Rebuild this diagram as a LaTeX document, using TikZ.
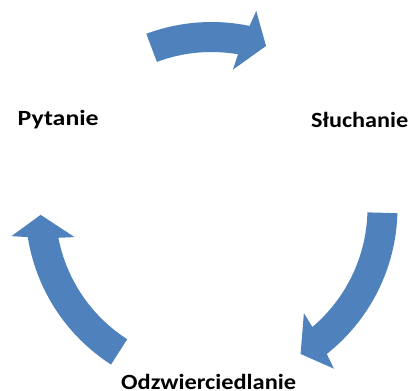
\documentclass[tikz,border=0pt]{standalone}
\usepackage{fontspec}
\setmainfont{Carlito}
\usepackage{graphicx}
\usetikzlibrary{calc}
\definecolor{sablue}{HTML}{4F81BD}
\tikzset{
  lbl/.style={inner sep=0pt, anchor=base west, font=\fontsize{21.7bp}{26bp}\selectfont\bfseries, text=black},
  cyc/.style={fill=sablue, draw=none}
}
\newcommand\cyclearrow[3]{%
  \pgfmathsetmacro\bA{#2+1}\pgfmathsetmacro\bB{#2+2}%
  \pgfmathsetmacro\bC{#2-2}\pgfmathsetmacro\bD{#2-1}%
  \fill[cyc] ($(C)+(#1:186)$) arc[start angle=#1, end angle=\bA, radius=186]
    -- ($(C)+(\bB:202)$) -- ($(C)+(#3:171)$) -- ($(C)+(\bC:140)$)
    -- ($(C)+(\bD:156)$) arc[start angle=\bD, end angle=#1, radius=156] -- cycle;}
\begin{document}
\begin{tikzpicture}[x=1bp,y=-1bp]
\useasboundingbox (0,0) rectangle (408,391);
\coordinate (C) at (211.5,208);
\cyclearrow{-110.5}{-79.2}{-71.4}
\cyclearrow{1.6}{50.7}{58.6}
\cyclearrow{122.7}{170}{177.7}
\node[lbl] (pyt) at (17.5,125.7) {\resizebox{81bp}{\height}{Pytanie}};
\node[lbl] (slu) at (311,127.5) {\resizebox{97bp}{\height}{Słuchanie}};
\node[lbl] (odz) at (121,389) {\resizebox{175bp}{\height}{Odzwierciedlanie}};
\end{tikzpicture}
\end{document}
